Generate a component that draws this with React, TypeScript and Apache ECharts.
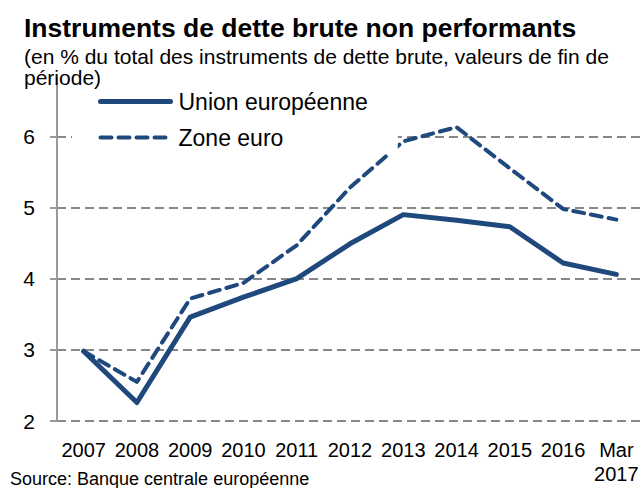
import React, { useEffect, useRef } from "react";
import * as echarts from "echarts";

const categories = ["2007", "2008", "2009", "2010", "2011", "2012", "2013", "2014", "2015", "2016", "Mar\n2017"];
const ueValues = [2.98, 2.26, 3.46, 3.74, 4.0, 4.49, 4.9, 4.82, 4.73, 4.22, 4.06];
const zeValues = [2.98, 2.55, 3.72, 3.94, 4.47, 5.28, 5.93, 6.13, 5.55, 4.98, 4.83];
const yTicks = [2, 3, 4, 5, 6];
const seriesNames = ["Union européenne", "Zone euro"];
const titleText = "Instruments de dette brute non performants";
const subtitleText = "(en % du total des instruments de dette brute, valeurs de fin de\npériode)";
const sourceText = "Source: Banque centrale européenne";

const FONT = "'Liberation Sans', Arial, sans-serif";
const BLUE = "#1F497D";

export default function App() {
  const ref = useRef<HTMLDivElement>(null);
  useEffect(() => {
    if (!ref.current) return;
    const chart = echarts.init(ref.current, undefined, { renderer: "svg" });
    chart.setOption({
      animation: false,
      backgroundColor: "#ffffff",
      textStyle: { fontFamily: FONT },
      title: [
        {
          text: titleText,
          left: 24,
          top: 14,
          padding: 0,
          textStyle: { fontFamily: FONT, fontWeight: "bold", fontSize: 26.5, color: "#000" },
        },
        {
          text: subtitleText,
          left: 24,
          top: 46,
          padding: 0,
          textStyle: { fontFamily: FONT, fontWeight: "normal", fontSize: 21, lineHeight: 21, color: "#000" },
        },
        {
          text: sourceText,
          left: 10,
          top: 470,
          padding: 0,
          textStyle: { fontFamily: FONT, fontWeight: "normal", fontSize: 18, color: "#000" },
        },
      ],
      legend: {
        orient: "vertical",
        left: 72,
        top: 85,
        padding: [5, 30, 5, 26],
        itemWidth: 70,
        itemHeight: 20,
        itemGap: 13,
        backgroundColor: "#ffffff",
        data: seriesNames,
        itemStyle: { opacity: 0 },
        lineStyle: { width: "inherit" },
        textStyle: { fontFamily: FONT, fontSize: 23, color: "#000", padding: [0, 0, 0, 3] },
      },
      grid: { left: 57, right: -1, top: 78, bottom: 67, containLabel: false },
      xAxis: {
        type: "category",
        data: categories,
        boundaryGap: true,
        axisLine: { show: false },
        axisTick: { show: false },
        axisLabel: { fontFamily: FONT, fontSize: 20, color: "#000", margin: 17, lineHeight: 24, interval: 0 },
        splitLine: { show: false },
      },
      yAxis: {
        type: "value",
        min: 2,
        max: 6.82,
        interval: 1,
        axisLine: { show: true, lineStyle: { color: "#999", width: 2 } },
        axisTick: { show: true, length: 7, customValues: yTicks, lineStyle: { color: "#999", width: 2 } },
        axisLabel: {
          fontFamily: FONT,
          fontSize: 21,
          color: "#000",
          margin: 22,
          customValues: yTicks,
        },
        splitLine: {
          show: true,
          lineStyle: { color: "#888", width: 2, type: [9, 5] },
        },
      },
      series: [
        {
          name: seriesNames[0],
          type: "line",
          data: ueValues,
          symbol: "none",
          lineStyle: { color: BLUE, width: 5, cap: "round", join: "round" },
          itemStyle: { color: BLUE },
          z: 3,
        },
        {
          name: seriesNames[1],
          type: "line",
          data: zeValues,
          symbol: "none",
          lineStyle: { color: BLUE, width: 4, type: [11, 7], cap: "round", join: "round" },
          itemStyle: { color: BLUE },
          z: 3,
        },
      ],
    });
    return () => chart.dispose();
  }, []);
  return (
    <div
      ref={ref}
      style={{ position: "fixed", left: 0, top: 0, width: 643, height: 488 }}
    />
  );
}
